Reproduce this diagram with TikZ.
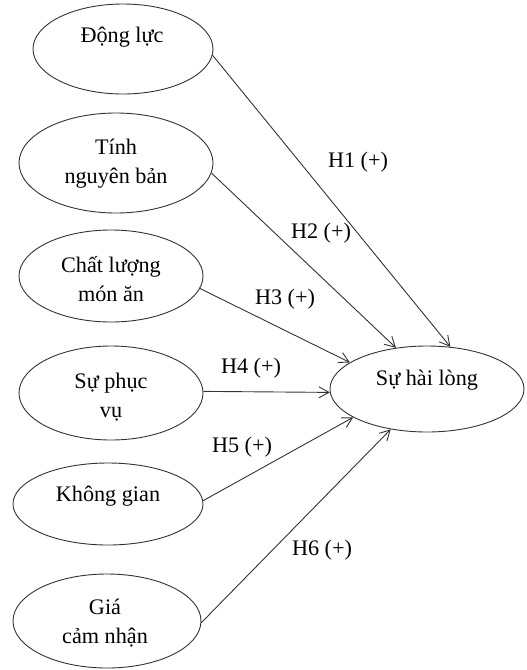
\documentclass[tikz,border=0pt]{standalone}
\usepackage{fontspec}
\setmainfont{Liberation Serif}
\usetikzlibrary{shapes.geometric,arrows.meta}
\definecolor{linec}{HTML}{333333}
\tikzset{
  ell/.style={ellipse, draw=linec, line width=0.9pt, inner sep=0pt},
  txt/.style={font=\fontsize{22.2}{29}\selectfont, align=center, inner sep=0pt, text=black},
  conn/.style={draw=linec, line width=0.9pt, -{Straight Barb[length=10pt,width=11pt,line width=0.9pt]}},
}
\begin{document}
\begin{tikzpicture}[x=1pt,y=-1pt]
\useasboundingbox (0,0) rectangle (527,670);
% ellipses
\node[ell, minimum width=180pt, minimum height=90pt] (n1) at (123,49) {};
\node[ell, minimum width=194pt, minimum height=100pt] (n2) at (116,163) {};
\node[ell, minimum width=184pt, minimum height=92pt] (n3) at (111,276) {};
\node[ell, minimum width=184pt, minimum height=94pt] (n4) at (111,393) {};
\node[ell, minimum width=190pt, minimum height=82pt] (n5) at (108,504) {};
\node[ell, minimum width=188pt, minimum height=94pt] (n6) at (107,621) {};
\node[ell, minimum width=194pt, minimum height=86pt] (hl) at (427,389) {};
% texts
\node[txt] (t1) at (122,37) {Động lực};
\node[txt] (t2) at (116,164) {Tính\\nguyên bản};
\node[txt] (t3) at (111,279) {Chất lượng\\món ăn};
\node[txt] (t4) at (111,397) {Sự phục\\vụ};
\node[txt] (t5) at (108,496) {Không gian};
\node[txt] (t6) at (105,623) {Giá\\cảm nhận};
\node[txt] (thl) at (427,380) {Sự hài lòng};
% connectors
\draw[conn] (n1.-4) -- (hl.61);
\draw[conn] (n2.-6) -- (hl.127);
\draw[conn] (n3.-8) -- (hl.161);
\draw[conn] (n4.1) -- (hl.182);
\draw[conn] (n5.2) -- (hl.201);
\draw[conn] (n6.-1) -- (hl.228);
% labels
\node[txt] (h1) at (358,162) {H1 (+)};
\node[txt] (h2) at (321,233) {H2 (+)};
\node[txt] (h3) at (285,299) {H3 (+)};
\node[txt] (h4) at (251,368) {H4 (+)};
\node[txt] (h5) at (242,447) {H5 (+)};
\node[txt] (h6) at (322,550) {H6 (+)};
\end{tikzpicture}
\end{document}
